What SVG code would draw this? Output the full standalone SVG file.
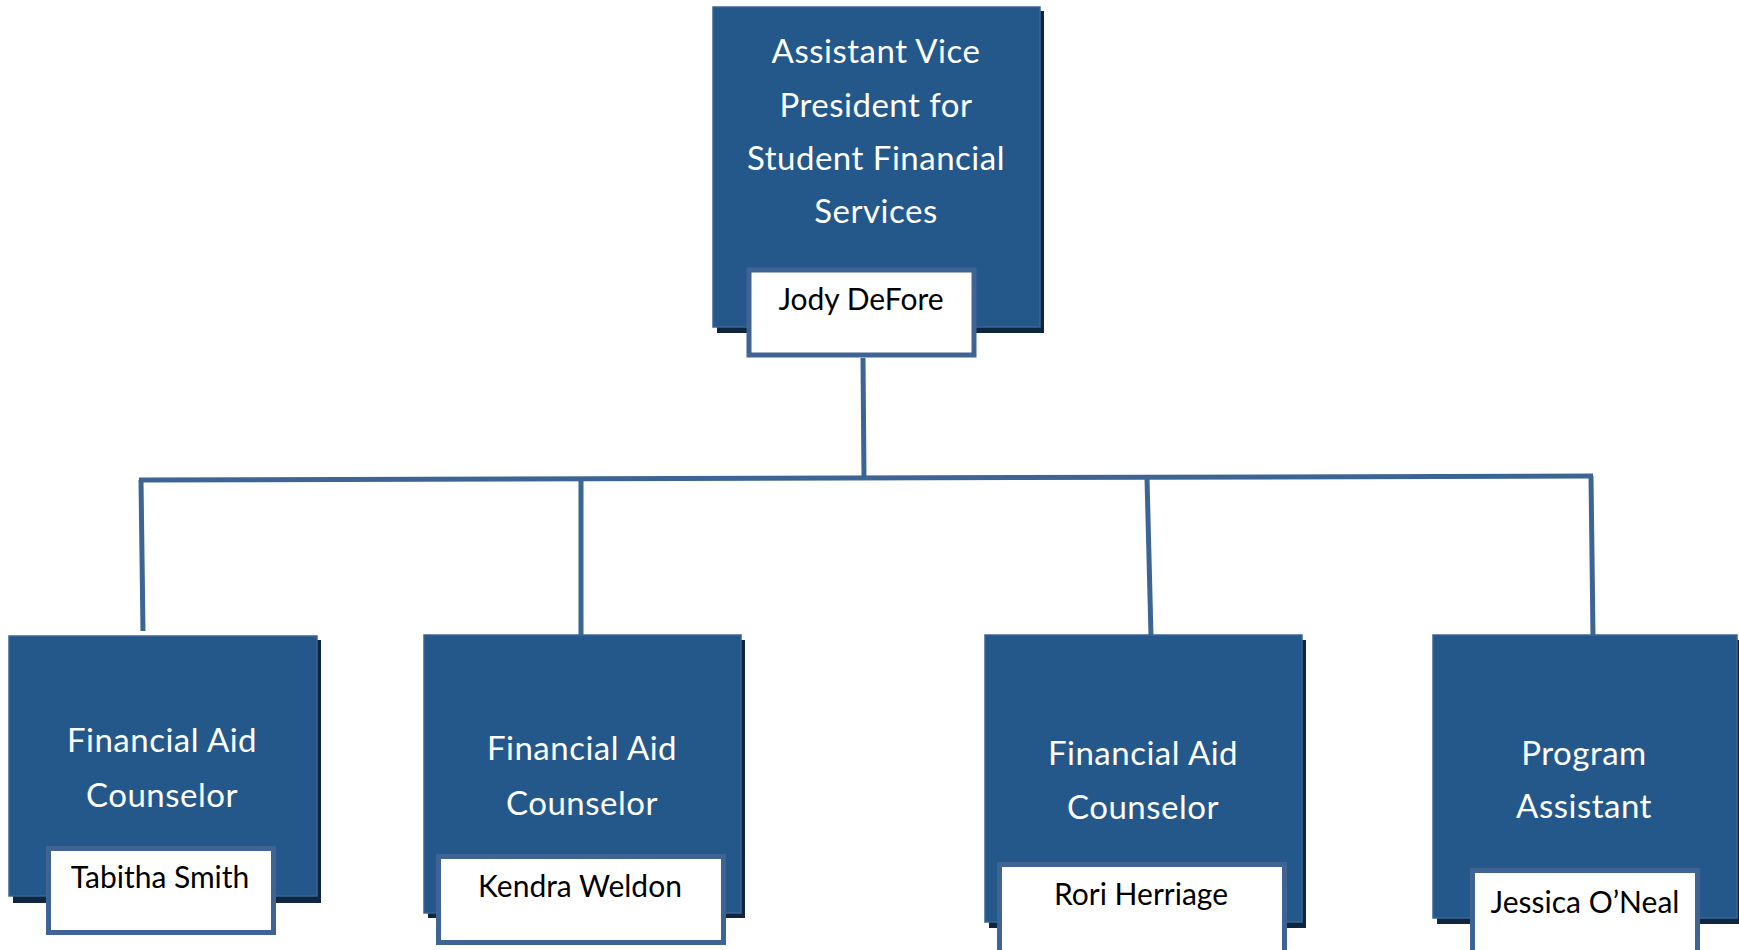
<svg xmlns="http://www.w3.org/2000/svg" width="1739" height="950" viewBox="0 0 1739 950">
<style>
.shadow{fill:#0e2640;}
.box{fill:#24588b;stroke:#3a6593;stroke-width:1.5;}
.name{fill:#ffffff;stroke:#3f6494;stroke-width:5;}
.title{font-family:Lato,"Liberation Sans",sans-serif;font-size:33px;letter-spacing:0.5px;fill:#ffffff;text-anchor:middle;}
.nm{font-family:Lato,"Liberation Sans",sans-serif;font-size:30px;letter-spacing:0px;fill:#000000;text-anchor:middle;}
.conn{fill:none;stroke:#3d6594;stroke-width:5;stroke-linecap:butt;stroke-linejoin:miter;}
</style>
<rect width="1739" height="950" fill="#ffffff"/>
<g id="connectors">
<path class="conn" d="M863,358 L864,478"/>
<path class="conn" d="M139,480 L1593,476"/>
<path class="conn" d="M141,480 L143,631"/>
<path class="conn" d="M581,479 L581,636"/>
<path class="conn" d="M1147,478 L1151,636"/>
<path class="conn" d="M1591,476 L1593,636"/>
</g>
<g id="node-avp">
<rect class="shadow" x="717" y="11" width="327" height="322"/>
<rect class="box" x="713" y="7" width="327" height="320"/>
<text class="title" x="876" y="63">Assistant Vice</text>
<text class="title" x="876" y="117">President for</text>
<text class="title" x="876" y="170">Student Financial</text>
<text class="title" x="876" y="223">Services</text>
<rect class="name" x="749" y="270" width="225" height="85"/>
<text class="nm" x="861" y="310">Jody DeFore</text>
</g>
<g id="node-fac1">
<rect class="shadow" x="13" y="640" width="308" height="263"/>
<rect class="box" x="9" y="636" width="308" height="260"/>
<text class="title" x="162" y="752">Financial Aid</text>
<text class="title" x="162" y="807">Counselor</text>
<rect class="name" x="48.5" y="848.5" width="225" height="84"/>
<text class="nm" x="160" y="888">Tabitha Smith</text>
</g>
<g id="node-fac2">
<rect class="shadow" x="428" y="640" width="317" height="278"/>
<rect class="box" x="424" y="635" width="317" height="278"/>
<text class="title" x="582" y="760">Financial Aid</text>
<text class="title" x="582" y="815">Counselor</text>
<rect class="name" x="438.5" y="856.5" width="285" height="86"/>
<text class="nm" x="580" y="897">Kendra Weldon</text>
</g>
<g id="node-fac3">
<rect class="shadow" x="989" y="640" width="317" height="288"/>
<rect class="box" x="985" y="635" width="317" height="287"/>
<text class="title" x="1143" y="765">Financial Aid</text>
<text class="title" x="1143" y="819">Counselor</text>
<rect class="name" x="999.5" y="864.5" width="285" height="100"/>
<text class="nm" x="1141" y="905">Rori Herriage</text>
</g>
<g id="node-pa">
<rect class="shadow" x="1437" y="640" width="304" height="284"/>
<rect class="box" x="1433" y="635" width="304" height="283"/>
<text class="title" x="1584" y="765">Program</text>
<text class="title" x="1584" y="818">Assistant</text>
<rect class="name" x="1472.5" y="870.5" width="225" height="100"/>
<text class="nm" x="1585" y="913">Jessica O’Neal</text>
</g>
</svg>
